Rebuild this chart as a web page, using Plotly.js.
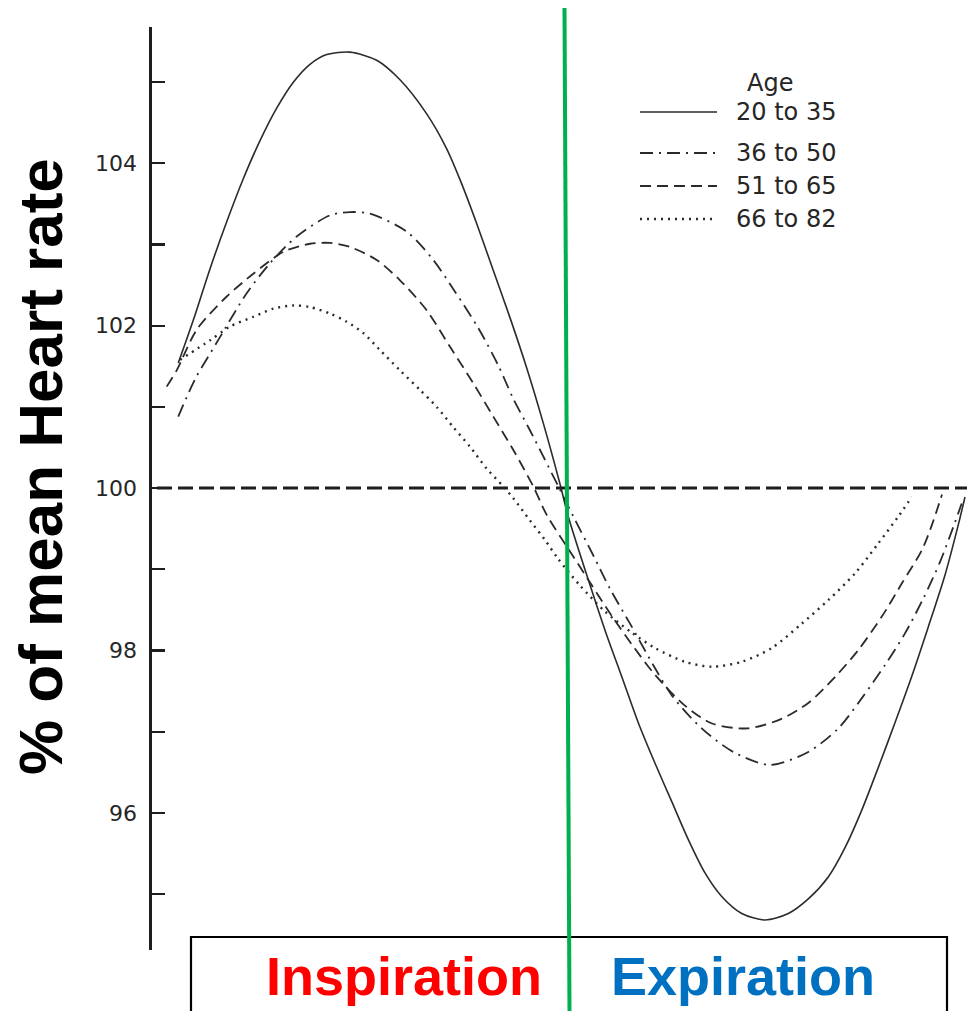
<!DOCTYPE html>
<html>
<head>
<meta charset="utf-8">
<script src="https://cdn.plot.ly/plotly-3.0.1.min.js"></script>
<style>
  html, body { margin: 0; padding: 0; background: #ffffff; }
  #chart { width: 967px; height: 1011px; }
</style>
</head>
<body>
<div id="chart"></div>
<script>
// x: position within one respiratory cycle (% of cycle); y: % of mean heart rate
const ageGroups = ["20 to 35", "36 to 50", "51 to 65", "66 to 82"];

const x_20_35 = [0.79, 2.69, 4.79, 6.90, 8.99, 11.10, 13.20, 15.30, 17.40, 19.51, 22.45, 25.81, 28.75, 32.12, 34.64, 36.32, 38.42, 40.52, 42.62, 44.73, 46.82, 48.93, 49.97, 52.50, 54.60, 56.71, 58.80, 60.91, 63.01, 65.11, 67.21, 69.32, 71.85, 74.78, 77.72, 80.24, 82.76, 84.87, 86.97, 89.07, 91.17, 93.28, 95.37, 97.48, 99.16, 100.0];
const y_20_35 = [101.54, 102.07, 102.70, 103.28, 103.81, 104.28, 104.68, 105.00, 105.22, 105.34, 105.37, 105.27, 105.03, 104.61, 104.18, 103.80, 103.26, 102.68, 102.10, 101.48, 100.80, 100.05, 99.65, 98.87, 98.25, 97.68, 97.11, 96.61, 96.14, 95.67, 95.26, 94.97, 94.76, 94.68, 94.76, 94.94, 95.21, 95.57, 96.03, 96.56, 97.11, 97.68, 98.29, 98.93, 99.55, 99.89];

const x_36_50 = [0.79, 1.85, 3.11, 4.58, 6.05, 9.42, 12.36, 15.73, 19.92, 22.45, 24.97, 29.60, 32.95, 35.69, 38.63, 41.15, 43.04, 45.15, 46.82, 48.93, 50.82, 53.13, 55.23, 57.76, 63.01, 66.80, 70.78, 75.41, 80.24, 84.02, 86.97, 89.91, 92.43, 94.74, 96.85, 98.52, 99.58];
const y_36_50 = [100.88, 101.12, 101.38, 101.62, 101.86, 102.40, 102.77, 103.10, 103.36, 103.40, 103.38, 103.16, 102.81, 102.42, 101.97, 101.51, 101.10, 100.71, 100.39, 99.98, 99.61, 99.17, 98.76, 98.33, 97.45, 97.04, 96.75, 96.59, 96.75, 97.04, 97.41, 97.82, 98.21, 98.64, 99.09, 99.52, 99.81];

const x_51_65 = [-0.67, 0.59, 3.11, 6.90, 10.25, 14.04, 17.40, 19.92, 22.45, 25.81, 28.75, 32.12, 35.06, 38.00, 40.52, 43.04, 45.56, 47.25, 50.19, 52.96, 55.49, 58.39, 60.91, 64.69, 68.10, 72.64, 76.92, 80.20, 83.67, 86.51, 89.53, 92.06, 94.58, 95.84, 97.10];
const y_51_65 = [101.25, 101.45, 101.95, 102.36, 102.64, 102.91, 103.01, 103.02, 102.97, 102.81, 102.56, 102.19, 101.74, 101.29, 100.88, 100.47, 100.02, 99.67, 99.22, 98.80, 98.42, 98.02, 97.70, 97.32, 97.10, 97.04, 97.16, 97.35, 97.68, 98.00, 98.42, 98.83, 99.24, 99.55, 99.92];

const x_66_82 = [1.01, 4.79, 7.31, 10.25, 12.77, 15.30, 17.40, 19.92, 22.03, 24.12, 26.23, 28.75, 31.27, 33.38, 35.47, 37.58, 39.68, 41.78, 43.00, 45.15, 47.04, 48.68, 51.45, 54.60, 57.97, 60.91, 64.69, 68.06, 71.84, 75.63, 79.41, 82.76, 86.13, 89.07, 91.59, 93.28];
const y_66_82 = [101.58, 101.82, 101.99, 102.11, 102.21, 102.25, 102.23, 102.15, 102.05, 101.91, 101.70, 101.45, 101.21, 101.00, 100.75, 100.51, 100.24, 100.02, 99.88, 99.60, 99.36, 99.13, 98.80, 98.48, 98.22, 98.03, 97.86, 97.80, 97.86, 98.03, 98.33, 98.62, 98.95, 99.32, 99.65, 99.89];

const yTickVals = [95, 96, 97, 98, 99, 100, 101, 102, 103, 104, 105];
const yTickText = ["", "96", "", "98", "", "100", "", "102", "", "104", ""];
const meanLevel = [100];
const phaseLabels = ["Inspiration", "Expiration"];
const yTitle = "% of mean Heart rate";
const legendTitle = "Age";

// ---- styling / layout helpers (page geometry, not data) ----
const W = 967, H = 1011;
const M = { l: 152, r: 0, t: 27, b: 61 };
const PW = W - M.l - M.r, PH = H - M.t - M.b;
const px = v => (v - M.l) / PW;          // page x pixel -> paper x
const py = v => (H - M.b - v) / PH;      // page y pixel -> paper y

const ink = "#2b2b2b";
const dashStyles = ["solid", "13px,6px,2px,6px", "11px,6px", "2px,5px"];
const widths = [1.6, 1.8, 1.8, 2.4];
const xs = [x_20_35, x_36_50, x_51_65, x_66_82];
const ys = [y_20_35, y_36_50, y_51_65, y_66_82];

const traces = ageGroups.map((g, i) => ({
  type: "scatter",
  mode: "lines",
  name: g,
  x: xs[i],
  y: ys[i],
  line: { color: ink, width: widths[i], dash: dashStyles[i], shape: "spline", smoothing: 0.8 },
  hoverinfo: "x+y+name",
  showlegend: false
}));

const shapes = [];
const annotations = [];

// mean line at 100 %
shapes.push({
  type: "line", xref: "paper", yref: "y",
  x0: px(157), x1: 1, y0: meanLevel[0], y1: meanLevel[0],
  line: { color: "#1e1e1e", width: 3, dash: "15px,6px" }
});

// phase box
shapes.push({
  type: "rect", xref: "paper", yref: "paper",
  x0: px(191), x1: px(947), y0: py(1020), y1: py(937),
  line: { color: "#000000", width: 2.2 }, fillcolor: "rgba(0,0,0,0)"
});

// inspiration / expiration boundary (green)
shapes.push({
  type: "line", xref: "paper", yref: "paper",
  x0: px(564.5), x1: px(569.5), y0: py(8), y1: py(1011),
  line: { color: "#00B050", width: 4 }
});

// phase labels
annotations.push({
  xref: "paper", yref: "paper", x: px(403.5), y: py(976), xanchor: "center", yanchor: "middle",
  text: phaseLabels[0], showarrow: false,
  font: { family: "Liberation Sans, Arial, sans-serif", size: 54, color: "#FF0000", weight: "bold" }
});
annotations.push({
  xref: "paper", yref: "paper", x: px(742.5), y: py(976), xanchor: "center", yanchor: "middle",
  text: phaseLabels[1], showarrow: false,
  font: { family: "Liberation Sans, Arial, sans-serif", size: 54, color: "#0070C0", weight: "bold" }
});

// y-axis title (placed as in the original figure)
annotations.push({
  xref: "paper", yref: "paper", x: px(40), y: py(467), xanchor: "center", yanchor: "middle",
  text: yTitle, textangle: -90, showarrow: false,
  font: { family: "Liberation Sans, Arial, sans-serif", size: 62, color: "#000000", weight: "bold" }
});

// legend (drawn manually to match the original key)
const legFont = { family: "DejaVu Sans, sans-serif", size: 24, color: "#262626" };
annotations.push({
  xref: "paper", yref: "paper", x: px(770), y: py(83), xanchor: "center", yanchor: "middle",
  text: legendTitle, showarrow: false, font: legFont
});
const legY = [112, 153, 186, 219];
ageGroups.forEach((g, i) => {
  shapes.push({
    type: "line", xref: "paper", yref: "paper",
    x0: px(640), x1: px(717), y0: py(legY[i]), y1: py(legY[i]),
    line: { color: ink, width: widths[i], dash: dashStyles[i] }
  });
  annotations.push({
    xref: "paper", yref: "paper", x: px(734), y: py(legY[i]), xanchor: "left", yanchor: "middle",
    text: g, showarrow: false, font: legFont
  });
});

const layout = {
  width: W, height: H,
  margin: M,
  paper_bgcolor: "#ffffff",
  plot_bgcolor: "#ffffff",
  showlegend: false,
  xaxis: {
    range: [(M.l - 172) / 7.93, (W - 172) / 7.93],
    visible: false,
    fixedrange: true
  },
  yaxis: {
    range: [94.31, 105.68],
    tickmode: "array",
    tickvals: yTickVals,
    ticktext: yTickText,
    ticks: "inside",
    ticklen: 13,
    tickwidth: 2.2,
    tickcolor: "#1e1e1e",
    showline: true,
    linecolor: "#1e1e1e",
    linewidth: 2.6,
    showgrid: false,
    zeroline: false,
    ticklabelstandoff: 8,
    tickfont: { family: "DejaVu Sans, sans-serif", size: 22, color: "#262626" },
    fixedrange: true
  },
  shapes: shapes,
  annotations: annotations
};

Plotly.newPlot("chart", traces, layout, { displayModeBar: false, staticPlot: true });
</script>
</body>
</html>
